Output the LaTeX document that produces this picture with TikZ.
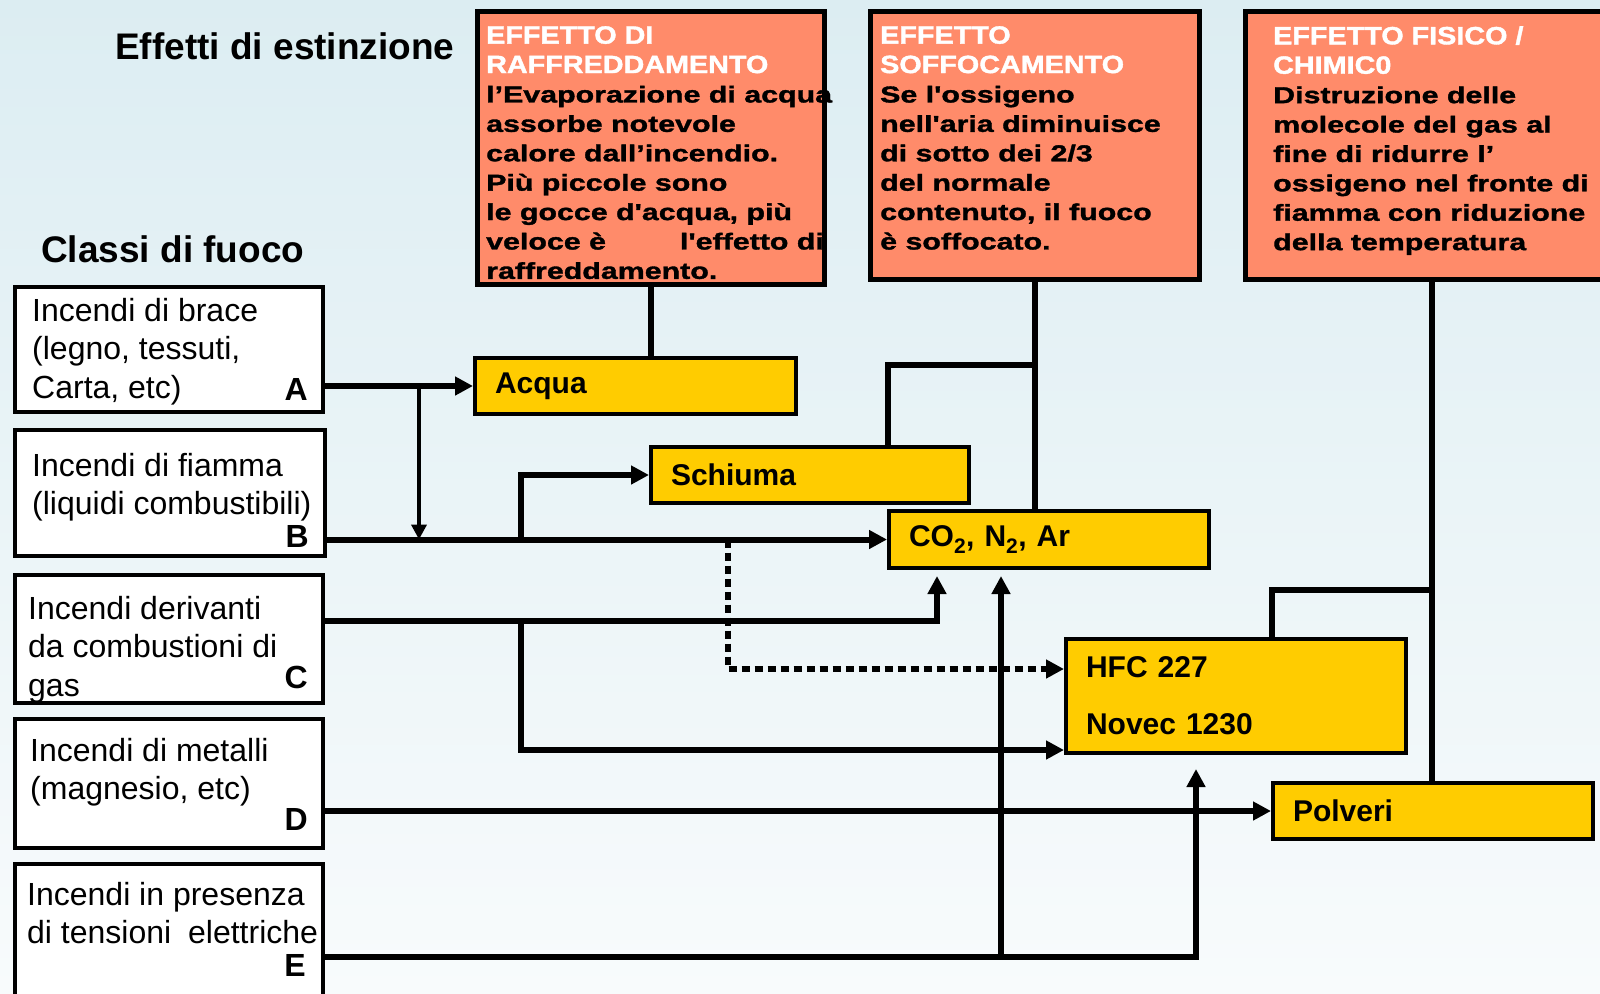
\documentclass[tikz,border=0pt]{standalone}
\usepackage{fontspec}
\setmainfont{Liberation Sans}
\newfontfamily\effheadfont[FakeStretch=1.15,FakeBold=1.5]{Liberation Sans}
\newfontfamily\effbodyfont[FakeStretch=1.32,FakeBold=1.5]{Liberation Sans}
\usetikzlibrary{arrows.meta}
\usetikzlibrary{positioning}
\definecolor{effred}{RGB}{255,139,106}
\definecolor{agentyellow}{RGB}{255,204,0}
\definecolor{bgtop}{RGB}{220,237,242}
\definecolor{bgbottom}{RGB}{248,251,252}
\newcommand{\effhd}{\effheadfont\bfseries\fontsize{25}{29.4}\selectfont\color{white}}
\newcommand{\effbd}{\effbodyfont\bfseries\fontsize{23}{29.4}\selectfont\color{black}}

\begin{document}
\begin{tikzpicture}[x=1pt,y=-1pt,
        effbox/.style={draw, line width=5pt, fill=effred, inner sep=0pt},
        efftext/.style={inner sep=0pt, align=left, anchor=north west, font=\effbd},
        agentbox/.style={draw, line width=4pt, fill=agentyellow, inner xsep=20pt,
            inner ysep=0pt, align=left, font=\fontsize{30}{57}\selectfont\bfseries},
        classbox/.style={draw, line width=4pt, fill=white, inner sep=0pt},
        classtext/.style={inner sep=0pt, align=left, anchor=north west,
            font=\fontsize{32}{38.5}\selectfont},
        classletter/.style={inner sep=0pt, anchor=base east,
            font=\fontsize{32}{38}\selectfont\bfseries},
        heading/.style={inner sep=0pt, anchor=base west,
            font=\fontsize{37}{44}\selectfont\bfseries},
        link/.style={line width=6pt},
        flow/.style={line width=6pt, -{Triangle[length=18pt,width=18pt]}},
        thinflow/.style={line width=4.5pt, -{Triangle[length=15pt,width=15pt]}},
        dotflow/.style={line width=6pt, dash pattern=on 8pt off 5pt,
            -{Triangle[length=18pt,width=18pt]}}]
        \useasboundingbox (0,0) rectangle (1600,993);
        \shade [top color=bgtop, bottom color=bgbottom] (0,0) rectangle (1600,993);
        %% Titles
        \node [heading] (titleEffects) at (115,59) {Effetti di estinzione};
        \node [heading] (titleClasses) at (41,262) {Classi di fuoco};
        %% Effects
        \node [effbox, minimum width=347pt, minimum height=273pt] at (651,148) (eff1) {};
        \node [effbox, minimum width=329pt, minimum height=268pt] at (1035,145.5) (eff2) {};
        \node [effbox, minimum width=372pt, minimum height=268pt] at (1431.5,145.5) (eff3) {};
        \node [efftext] at (486,26) (eff1text) {\effhd EFFETTO DI\\\effhd RAFFREDDAMENTO\\
            l’Evaporazione di acqua\\assorbe notevole\\calore dall’incendio.\\
            Più piccole sono\\le gocce d'acqua, più\\veloce è\hspace{74pt}l'effetto di\\
            raffreddamento.};
        \node [efftext] at (880,26) (eff2text) {\effhd EFFETTO\\\effhd SOFFOCAMENTO\\
            Se l'ossigeno\\nell'aria diminuisce\\di sotto dei 2/3\\del normale\\
            contenuto, il fuoco\\è soffocato.};
        \node [efftext] at (1273,26) (eff3text) {\effhd EFFETTO FISICO /\\\effhd CHIMIC0\\
            Distruzione delle\\molecole del gas al\\fine di ridurre l’\\
            ossigeno nel fronte di\\fiamma con riduzione\\della temperatura};
        %% Extinguishing agents
        \node [agentbox, text width=281pt, minimum height=56pt] at (635.5,386) (acqua) {Acqua};
        \node [agentbox, text width=278pt, minimum height=56pt] at (810,475) (schiuma) {Schiuma};
        \node [agentbox, text width=280pt, minimum height=57pt] at (1049,539.5) (gas)
            {CO\textsubscript{2}, N\textsubscript{2}, Ar};
        \node [agentbox, text width=300pt, minimum height=114pt] at (1236,696) (hfc)
            {HFC 227\\Novec 1230};
        \node [agentbox, text width=280pt, minimum height=56pt] at (1433,811) (polveri) {Polveri};
        %% Fire classes
        \node [classbox, minimum width=308pt, minimum height=125pt] at (169,349.5) (classA) {};
        \node [classbox, minimum width=310pt, minimum height=126pt] at (170,493) (classB) {};
        \node [classbox, minimum width=308pt, minimum height=128pt] at (169,639) (classC) {};
        \node [classbox, minimum width=308pt, minimum height=129pt] at (169,783.5) (classD) {};
        \node [classbox, minimum width=308pt, minimum height=144pt] at (169,936) (classE) {};
        \node [classtext] at (32,298) (txtA) {Incendi di brace\\(legno, tessuti,\\Carta, etc)};
        \node [classtext] at (32,453) (txtB) {Incendi di fiamma\\(liquidi combustibili)};
        \node [classtext] at (28,596) (txtC) {Incendi derivanti\\da combustioni di\\gas};
        \node [classtext] at (30,738) (txtD) {Incendi di metalli\\(magnesio, etc)};
        \node [classtext] at (27,882) (txtE) {Incendi in presenza\\di tensioni\hspace{8pt} elettriche};
        \node [classletter] at (308,400) (letA) {A};
        \node [classletter] at (309,547) (letB) {B};
        \node [classletter] at (308,688) (letC) {C};
        \node [classletter] at (308,830) (letD) {D};
        \node [classletter] at (306,976) (letE) {E};
        %% Junctions
        \coordinate (jA) at (419,386);
        \coordinate (jB) at (521,539.5);
        \coordinate (jDot) at (728,539.5);
        \coordinate (jC) at (521,621);
        \coordinate (jE) at (1001,957);
        \coordinate (jF) at (1033,365);
        \coordinate (jG) at (1431.5,590);
        %% Effect links
        \draw [link] (eff1.south) -- (eff1.south |- acqua.north);
        \draw [link] (eff2.south) -- (eff2.south |- gas.north);
        \draw [link] (jF) -| ([xshift=78pt]schiuma.north);
        \draw [link] (eff3.south) -- (eff3.south |- polveri.north);
        \draw [link] (jG) -| ([xshift=36pt]hfc.north);
        %% Class arcs
        \draw [flow] (classA.east |- acqua.west) -- (acqua.west);
        \draw [thinflow] (jA) -- (jA |- gas.west);
        \draw [flow] (classB.east |- gas.west) -- (gas.west);
        \draw [flow] (jB) |- (schiuma.west);
        \draw [dotflow] (jDot) |- ([yshift=27pt]hfc.west);
        \draw [flow, shorten >=6pt] ([yshift=18pt]classC.east) -| ([xshift=-112pt]gas.south);
        \draw [flow] (jC) |- ([yshift=-54pt]hfc.west);
        \draw [flow] (classD.east |- polveri.west) -- (polveri.west);
        \draw [flow, shorten >=14pt] ([yshift=-21pt]classE.east) -| ([xshift=-40pt]hfc.south);
        \draw [flow, shorten >=6pt] (jE) -- (jE |- gas.south);
    \end{tikzpicture}
\end{document}
